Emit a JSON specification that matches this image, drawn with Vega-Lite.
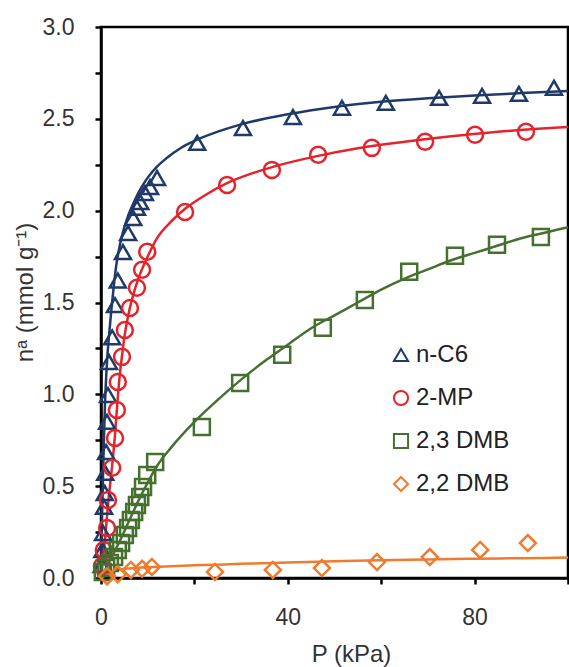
{
  "$schema": "https://vega.github.io/schema/vega-lite/v6.json",
  "autosize": {"type": "none"},
  "padding": {"left": 101, "top": 27, "right": 1, "bottom": 89},
  "width": 467,
  "height": 551,
  "background": "white",
  "datasets": {
    "exp": [
      {"series": "n-C6", "P": 0.15, "n": 0.07},
      {"series": "n-C6", "P": 0.3, "n": 0.152},
      {"series": "n-C6", "P": 0.45, "n": 0.245},
      {"series": "n-C6", "P": 0.65, "n": 0.387},
      {"series": "n-C6", "P": 0.8, "n": 0.463},
      {"series": "n-C6", "P": 0.9, "n": 0.572},
      {"series": "n-C6", "P": 1.1, "n": 0.686},
      {"series": "n-C6", "P": 1.3, "n": 0.85},
      {"series": "n-C6", "P": 1.5, "n": 0.996},
      {"series": "n-C6", "P": 1.7, "n": 1.176},
      {"series": "n-C6", "P": 2.4, "n": 1.31},
      {"series": "n-C6", "P": 3.0, "n": 1.486},
      {"series": "n-C6", "P": 3.6, "n": 1.62},
      {"series": "n-C6", "P": 4.7, "n": 1.775},
      {"series": "n-C6", "P": 5.8, "n": 1.878},
      {"series": "n-C6", "P": 6.9, "n": 1.96},
      {"series": "n-C6", "P": 7.7, "n": 2.015},
      {"series": "n-C6", "P": 8.4, "n": 2.047},
      {"series": "n-C6", "P": 9.4, "n": 2.096},
      {"series": "n-C6", "P": 10.5, "n": 2.129},
      {"series": "n-C6", "P": 12.0, "n": 2.178},
      {"series": "n-C6", "P": 20.6, "n": 2.369},
      {"series": "n-C6", "P": 30.4, "n": 2.45},
      {"series": "n-C6", "P": 41.1, "n": 2.51},
      {"series": "n-C6", "P": 51.6, "n": 2.56},
      {"series": "n-C6", "P": 61.0, "n": 2.587},
      {"series": "n-C6", "P": 72.4, "n": 2.614},
      {"series": "n-C6", "P": 81.6, "n": 2.625},
      {"series": "n-C6", "P": 89.5, "n": 2.636},
      {"series": "n-C6", "P": 97.0, "n": 2.669},
      {"series": "2-MP", "P": 0.2, "n": 0.065},
      {"series": "2-MP", "P": 0.6, "n": 0.152},
      {"series": "2-MP", "P": 1.3, "n": 0.272},
      {"series": "2-MP", "P": 1.5, "n": 0.425},
      {"series": "2-MP", "P": 2.4, "n": 0.6},
      {"series": "2-MP", "P": 3.0, "n": 0.762},
      {"series": "2-MP", "P": 3.4, "n": 0.915},
      {"series": "2-MP", "P": 3.6, "n": 1.067},
      {"series": "2-MP", "P": 4.5, "n": 1.204},
      {"series": "2-MP", "P": 5.1, "n": 1.35},
      {"series": "2-MP", "P": 6.2, "n": 1.47},
      {"series": "2-MP", "P": 7.7, "n": 1.58},
      {"series": "2-MP", "P": 8.8, "n": 1.678},
      {"series": "2-MP", "P": 9.9, "n": 1.776},
      {"series": "2-MP", "P": 18.0, "n": 1.993},
      {"series": "2-MP", "P": 27.0, "n": 2.14},
      {"series": "2-MP", "P": 36.6, "n": 2.222},
      {"series": "2-MP", "P": 46.5, "n": 2.304},
      {"series": "2-MP", "P": 58.0, "n": 2.342},
      {"series": "2-MP", "P": 69.4, "n": 2.375},
      {"series": "2-MP", "P": 80.1, "n": 2.413},
      {"series": "2-MP", "P": 91.0, "n": 2.43},
      {"series": "2,3 DMB", "P": 0.4, "n": 0.033},
      {"series": "2,3 DMB", "P": 1.1, "n": 0.054},
      {"series": "2,3 DMB", "P": 1.9, "n": 0.082},
      {"series": "2,3 DMB", "P": 2.8, "n": 0.114},
      {"series": "2,3 DMB", "P": 3.6, "n": 0.152},
      {"series": "2,3 DMB", "P": 4.3, "n": 0.191},
      {"series": "2,3 DMB", "P": 5.1, "n": 0.234},
      {"series": "2,3 DMB", "P": 5.8, "n": 0.272},
      {"series": "2,3 DMB", "P": 6.4, "n": 0.316},
      {"series": "2,3 DMB", "P": 7.1, "n": 0.359},
      {"series": "2,3 DMB", "P": 7.7, "n": 0.398},
      {"series": "2,3 DMB", "P": 8.4, "n": 0.441},
      {"series": "2,3 DMB", "P": 9.0, "n": 0.496},
      {"series": "2,3 DMB", "P": 9.9, "n": 0.561},
      {"series": "2,3 DMB", "P": 11.6, "n": 0.632},
      {"series": "2,3 DMB", "P": 21.6, "n": 0.822},
      {"series": "2,3 DMB", "P": 29.8, "n": 1.062},
      {"series": "2,3 DMB", "P": 38.8, "n": 1.215},
      {"series": "2,3 DMB", "P": 47.5, "n": 1.362},
      {"series": "2,3 DMB", "P": 56.5, "n": 1.514},
      {"series": "2,3 DMB", "P": 66.0, "n": 1.667},
      {"series": "2,3 DMB", "P": 75.8, "n": 1.754},
      {"series": "2,3 DMB", "P": 84.8, "n": 1.814},
      {"series": "2,3 DMB", "P": 94.2, "n": 1.857},
      {"series": "2,2 DMB", "P": 1.3, "n": 0.01},
      {"series": "2,2 DMB", "P": 3.6, "n": 0.02},
      {"series": "2,2 DMB", "P": 6.4, "n": 0.044},
      {"series": "2,2 DMB", "P": 8.8, "n": 0.05},
      {"series": "2,2 DMB", "P": 10.9, "n": 0.06},
      {"series": "2,2 DMB", "P": 24.4, "n": 0.033},
      {"series": "2,2 DMB", "P": 36.8, "n": 0.044},
      {"series": "2,2 DMB", "P": 47.3, "n": 0.054},
      {"series": "2,2 DMB", "P": 59.1, "n": 0.087},
      {"series": "2,2 DMB", "P": 70.4, "n": 0.114},
      {"series": "2,2 DMB", "P": 81.2, "n": 0.153},
      {"series": "2,2 DMB", "P": 91.4, "n": 0.19}
    ],
    "fit": [
      {"series": "n-C6", "P": 0, "n": 0},
      {"series": "n-C6", "P": 0.2, "n": 0.3},
      {"series": "n-C6", "P": 0.5, "n": 0.63},
      {"series": "n-C6", "P": 0.8, "n": 0.91},
      {"series": "n-C6", "P": 1.2, "n": 1.14},
      {"series": "n-C6", "P": 1.9, "n": 1.37},
      {"series": "n-C6", "P": 2.5, "n": 1.53},
      {"series": "n-C6", "P": 3.2, "n": 1.69},
      {"series": "n-C6", "P": 4.1, "n": 1.82},
      {"series": "n-C6", "P": 5.0, "n": 1.91},
      {"series": "n-C6", "P": 6.0, "n": 1.985},
      {"series": "n-C6", "P": 7.3, "n": 2.06},
      {"series": "n-C6", "P": 8.5, "n": 2.12},
      {"series": "n-C6", "P": 10, "n": 2.18},
      {"series": "n-C6", "P": 12, "n": 2.24},
      {"series": "n-C6", "P": 14, "n": 2.285},
      {"series": "n-C6", "P": 17, "n": 2.34},
      {"series": "n-C6", "P": 20, "n": 2.38},
      {"series": "n-C6", "P": 25, "n": 2.43},
      {"series": "n-C6", "P": 30, "n": 2.47},
      {"series": "n-C6", "P": 40, "n": 2.525},
      {"series": "n-C6", "P": 50, "n": 2.565},
      {"series": "n-C6", "P": 60, "n": 2.593},
      {"series": "n-C6", "P": 70, "n": 2.612},
      {"series": "n-C6", "P": 80, "n": 2.627},
      {"series": "n-C6", "P": 90, "n": 2.64},
      {"series": "n-C6", "P": 100, "n": 2.652},
      {"series": "2-MP", "P": 0, "n": 0},
      {"series": "2-MP", "P": 0.5, "n": 0.12},
      {"series": "2-MP", "P": 1, "n": 0.25},
      {"series": "2-MP", "P": 1.5, "n": 0.4},
      {"series": "2-MP", "P": 2, "n": 0.52},
      {"series": "2-MP", "P": 2.5, "n": 0.64},
      {"series": "2-MP", "P": 3, "n": 0.78},
      {"series": "2-MP", "P": 3.5, "n": 0.95},
      {"series": "2-MP", "P": 4, "n": 1.1},
      {"series": "2-MP", "P": 4.5, "n": 1.21},
      {"series": "2-MP", "P": 5, "n": 1.31},
      {"series": "2-MP", "P": 6, "n": 1.45},
      {"series": "2-MP", "P": 7, "n": 1.55},
      {"series": "2-MP", "P": 8, "n": 1.63},
      {"series": "2-MP", "P": 10, "n": 1.75},
      {"series": "2-MP", "P": 12, "n": 1.85},
      {"series": "2-MP", "P": 15, "n": 1.94},
      {"series": "2-MP", "P": 18, "n": 2.01},
      {"series": "2-MP", "P": 22, "n": 2.08},
      {"series": "2-MP", "P": 27, "n": 2.15},
      {"series": "2-MP", "P": 32, "n": 2.2},
      {"series": "2-MP", "P": 37, "n": 2.24},
      {"series": "2-MP", "P": 45, "n": 2.29},
      {"series": "2-MP", "P": 55, "n": 2.34},
      {"series": "2-MP", "P": 65, "n": 2.375},
      {"series": "2-MP", "P": 75, "n": 2.405},
      {"series": "2-MP", "P": 85, "n": 2.43},
      {"series": "2-MP", "P": 100, "n": 2.455},
      {"series": "2,3 DMB", "P": 0, "n": 0},
      {"series": "2,3 DMB", "P": 2, "n": 0.1},
      {"series": "2,3 DMB", "P": 4, "n": 0.2},
      {"series": "2,3 DMB", "P": 6, "n": 0.31},
      {"series": "2,3 DMB", "P": 8, "n": 0.42},
      {"series": "2,3 DMB", "P": 10, "n": 0.52},
      {"series": "2,3 DMB", "P": 12, "n": 0.61},
      {"series": "2,3 DMB", "P": 15, "n": 0.71},
      {"series": "2,3 DMB", "P": 20, "n": 0.85},
      {"series": "2,3 DMB", "P": 25, "n": 0.97},
      {"series": "2,3 DMB", "P": 30, "n": 1.08},
      {"series": "2,3 DMB", "P": 35, "n": 1.18},
      {"series": "2,3 DMB", "P": 40, "n": 1.27},
      {"series": "2,3 DMB", "P": 45, "n": 1.36},
      {"series": "2,3 DMB", "P": 50, "n": 1.43},
      {"series": "2,3 DMB", "P": 55, "n": 1.5},
      {"series": "2,3 DMB", "P": 60, "n": 1.57},
      {"series": "2,3 DMB", "P": 65, "n": 1.63},
      {"series": "2,3 DMB", "P": 70, "n": 1.68},
      {"series": "2,3 DMB", "P": 75, "n": 1.73},
      {"series": "2,3 DMB", "P": 80, "n": 1.77},
      {"series": "2,3 DMB", "P": 85, "n": 1.81},
      {"series": "2,3 DMB", "P": 90, "n": 1.85},
      {"series": "2,3 DMB", "P": 95, "n": 1.88},
      {"series": "2,3 DMB", "P": 100, "n": 1.91},
      {"series": "2,2 DMB", "P": 0, "n": 0},
      {"series": "2,2 DMB", "P": 1, "n": 0.015},
      {"series": "2,2 DMB", "P": 2, "n": 0.03},
      {"series": "2,2 DMB", "P": 4, "n": 0.045},
      {"series": "2,2 DMB", "P": 6, "n": 0.052},
      {"series": "2,2 DMB", "P": 10, "n": 0.058},
      {"series": "2,2 DMB", "P": 15, "n": 0.064},
      {"series": "2,2 DMB", "P": 20, "n": 0.069},
      {"series": "2,2 DMB", "P": 30, "n": 0.077},
      {"series": "2,2 DMB", "P": 40, "n": 0.085},
      {"series": "2,2 DMB", "P": 50, "n": 0.091},
      {"series": "2,2 DMB", "P": 60, "n": 0.097},
      {"series": "2,2 DMB", "P": 70, "n": 0.101},
      {"series": "2,2 DMB", "P": 80, "n": 0.105},
      {"series": "2,2 DMB", "P": 90, "n": 0.108},
      {"series": "2,2 DMB", "P": 100, "n": 0.111}
    ]
  },
  "encoding": {
    "x": {
      "field": "P", "type": "quantitative",
      "scale": {"domain": [0, 100], "nice": false, "zero": true},
      "axis": {
        "title": "P (kPa)",
        "values": [0, 20, 40, 60, 80, 100],
        "labelExpr": "datum.value % 40 === 0 ? datum.label : ''",
        "labelFlush": false,
        "labelPadding": 22,
        "titlePadding": 13,
        "titleFontSize": 24,
        "titleX": 250
      }
    },
    "y": {
      "field": "n", "type": "quantitative",
      "scale": {"domain": [0, 3], "nice": false},
      "axis": {
        "title": "nᵃ (mmol g⁻¹)",
        "values": [0, 0.25, 0.5, 0.75, 1, 1.25, 1.5, 1.75, 2, 2.25, 2.5, 2.75, 3],
        "labelExpr": "(datum.value * 2) % 1 === 0 ? format(datum.value, '.1f') : ''",
        "labelFlush": false,
        "labelPadding": 21,
        "titlePadding": 5,
        "titleFontSize": 24,
        "titleY": 265
      }
    }
  },
  "layer": [
    {
      "data": {"name": "fit"},
      "mark": {"type": "line", "strokeWidth": 2.5, "interpolate": "monotone"},
      "encoding": {
        "stroke": {
          "field": "series", "type": "nominal",
          "scale": {"domain": ["2,2 DMB", "2,3 DMB", "2-MP", "n-C6"], "range": ["#EF7B2F", "#46702F", "#E5232B", "#1F3A68"]},
          "legend": null
        },
        "order": {"field": "P", "type": "quantitative"}
      }
    },
    {
      "data": {"name": "exp"},
      "mark": {"type": "point", "filled": false, "strokeWidth": 2.5, "size": 256, "opacity": 1},
      "encoding": {
        "color": {
          "field": "series", "type": "nominal",
          "scale": {"domain": ["n-C6", "2-MP", "2,3 DMB", "2,2 DMB"], "range": ["#1F3A68", "#E5232B", "#46702F", "#EF7B2F"]},
          "legend": {
            "orient": "none", "legendX": 288, "legendY": 316, "title": null,
            "labelFontSize": 24, "labelFont": "Liberation Sans", "labelColor": "#222",
            "symbolSize": 200, "symbolStrokeWidth": 2, "rowPadding": 19, "labelOffset": 3, "padding": 0
          }
        },
        "shape": {
          "field": "series", "type": "nominal",
          "scale": {"domain": ["n-C6", "2-MP", "2,3 DMB", "2,2 DMB"], "range": ["triangle-up", "circle", "square", "diamond"]},
          "legend": {
            "orient": "none", "legendX": 288, "legendY": 316, "title": null,
            "labelFontSize": 24, "labelFont": "Liberation Sans", "labelColor": "#222",
            "symbolSize": 200, "symbolStrokeWidth": 2, "rowPadding": 19, "labelOffset": 3, "padding": 0
          }
        }
      }
    }
  ],
  "config": {
    "view": {"stroke": "black", "strokeWidth": 2.5},
    "axis": {
      "grid": false,
      "domainColor": "black", "domainWidth": 2.5,
      "tickColor": "black", "tickWidth": 2.5, "tickSize": 6,
      "labelFont": "Liberation Sans", "labelFontSize": 23, "labelColor": "#333",
      "titleFont": "Liberation Sans", "titleFontSize": 21, "titleFontWeight": "normal", "titleColor": "#333"
    }
  }
}
